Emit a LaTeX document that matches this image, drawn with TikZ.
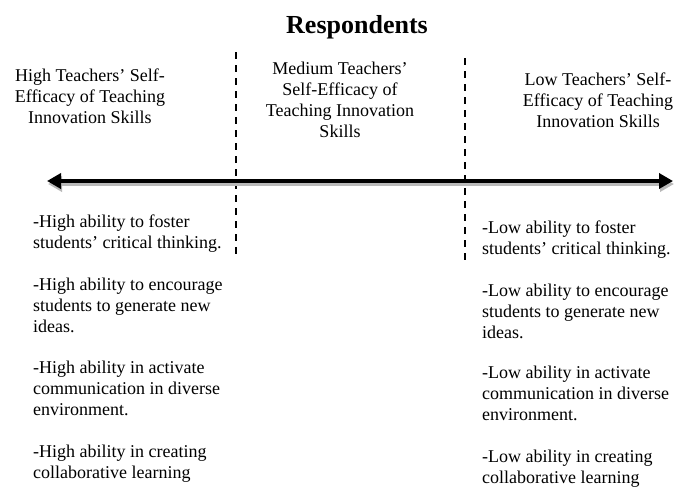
\documentclass[tikz,border=0pt]{standalone}
\usepackage{fontspec}
\setmainfont{Liberation Serif}
\usetikzlibrary{arrows.meta}

\begin{document}
\begin{tikzpicture}[x=1pt, y=-1pt,
	every node/.style={inner sep=0pt, font=\fontsize{18}{20.8}\selectfont},
	head/.style={align=center, anchor=base},
	item/.style={align=left, anchor=base west},
	sep/.style={line width=1.4pt, dash pattern=on 7pt off 6pt},
	tip/.style={{Triangle[length=14pt,width=15pt]}-{Triangle[length=14pt,width=15pt]}}]
	\useasboundingbox (0,0) rectangle (676,493);
	\node[anchor=base, font=\fontsize{26}{30}\selectfont\bfseries] (title) at (357,33) {Respondents};
	% base anchor sits on the last line
	\node[head] (high) at (90,123) {High Teachers' Self-\\Efficacy of Teaching\\Innovation Skills};
	\node[head] (medium) at (340,137) {Medium Teachers'\\Self-Efficacy of\\Teaching Innovation\\Skills};
	\node[head] (low) at (598,127) {Low Teachers' Self-\\Efficacy of Teaching\\Innovation Skills};
	% separators
	\draw[sep] (236,52) -- (236,260);
	\draw[sep] (465,58) -- (465,266);
	% scale line with its shadow
	\coordinate (lend) at (47,181);
	\coordinate (rend) at (673,181);
	\draw[tip, line width=4pt, gray!55] ([shift={(1,3)}]lend) -- ([shift={(1,3)}]rend);
	\draw[tip, line width=4pt] (lend) -- (rend);
	\foreach \y/\z/\txt [count=\i] in {248/254/{ability to foster\\students' critical thinking.},
		332/338/{ability to encourage\\students to generate new\\ideas.},
		415/420/{ability in activate\\communication in diverse\\environment.},
		478/483/{ability in creating\\collaborative learning}} {
		\node[item] (high-\i) at (33,\y) {-High \txt};
		\node[item] (low-\i) at (482,\z) {-Low \txt};
	}
\end{tikzpicture}
\end{document}
